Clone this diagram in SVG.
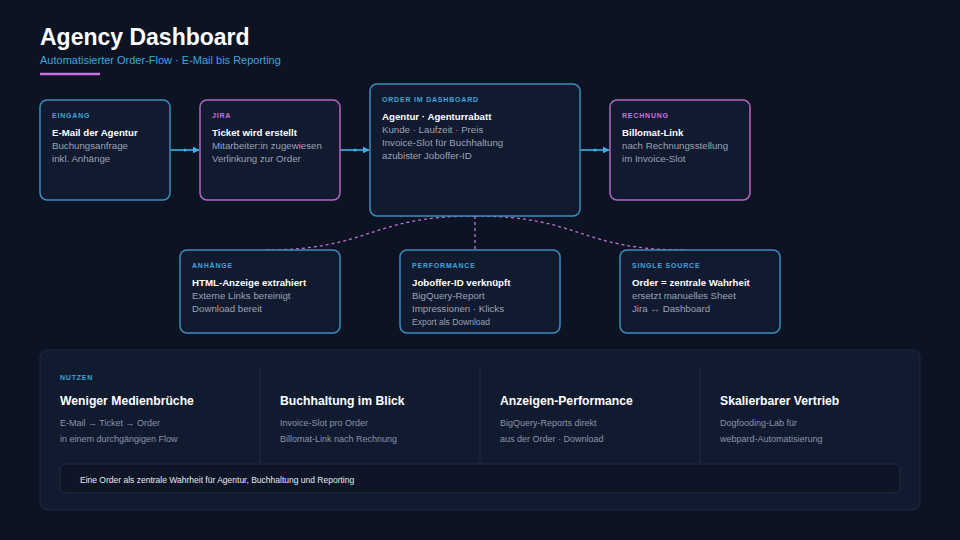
<svg xmlns="http://www.w3.org/2000/svg" width="960" height="540" viewBox="0 0 960 540">
<defs>
<marker id="ah" viewBox="0 0 10 10" refX="9" refY="5" markerWidth="7" markerHeight="7" markerUnits="userSpaceOnUse" orient="auto"><path d="M0,0 L10,5 L0,10 z" fill="#3fb0ea"/></marker>
<style>
text{font-family:"Liberation Sans",Arial,sans-serif}
.bg{fill:#0c1322}
.nb{fill:#111a2f;stroke:#3a8dbf;stroke-width:1.5}
.np{fill:#111a2f;stroke:#b566c6;stroke-width:1.5}
.lb{font-size:7px;font-weight:bold;letter-spacing:0.8px;fill:#3aa6dc}
.lp{font-size:7px;font-weight:bold;letter-spacing:0.8px;fill:#d070de}
.t{font-size:9.7px;font-weight:bold;fill:#ffffff}
.s{font-size:9.7px;fill:#9aa3b5}
.xs{font-size:8.5px;fill:#9aa3b5}
.ar{stroke:#3fb0ea;stroke-width:1.6;fill:none}
.dash{stroke:#c270d4;stroke-width:1.3;stroke-dasharray:3 3;fill:none}
.h{font-size:12.2px;font-weight:bold;fill:#ffffff}
.ps{font-size:9px;fill:#8a94a8}
.div{stroke:#1f2b42;stroke-width:1}
</style>
</defs>
<rect class="bg" x="0" y="0" width="960" height="540"/>
<g id="header">
<text x="40" y="45" font-size="23" font-weight="bold" fill="#ffffff">Agency Dashboard</text>
<text x="40" y="64" font-size="11" fill="#3aa6dc">Automatisierter Order-Flow · E-Mail bis Reporting</text>
<line x1="40" y1="74" x2="100" y2="74" stroke="#d070de" stroke-width="2.5"/>
</g>
<g id="connectors">
<line class="ar" x1="170" y1="150" x2="199" y2="150" marker-end="url(#ah)"/>
<circle cx="185" cy="150" r="1.6" fill="#3fb0ea"/>
<line class="ar" x1="340" y1="150" x2="369" y2="150" marker-end="url(#ah)"/>
<circle cx="355" cy="150" r="1.6" fill="#3fb0ea"/>
<line class="ar" x1="580" y1="150" x2="609" y2="150" marker-end="url(#ah)"/>
<circle cx="595" cy="150" r="1.6" fill="#3fb0ea"/>
<path class="dash" d="M475,216 C370,216 370,250 265,250"/>
<path class="dash" d="M475,216 L475,250"/>
<path class="dash" d="M475,216 C580,216 580,250 685,250"/>
</g>
<g id="eingang">
<rect class="nb" x="40" y="100" width="130" height="100" rx="7"/>
<text class="lb" x="52" y="118">EINGANG</text>
<text class="t" x="52" y="136">E-Mail der Agentur</text>
<text class="s" x="52" y="149">Buchungsanfrage</text>
<text class="s" x="52" y="162">inkl. Anhänge</text>
</g>
<g id="jira">
<rect class="np" x="200" y="100" width="140" height="100" rx="7"/>
<text class="lp" x="212" y="118">JIRA</text>
<text class="t" x="212" y="136">Ticket wird erstellt</text>
<text class="s" x="212" y="149">Mitarbeiter:in zugewiesen</text>
<text class="s" x="212" y="162">Verlinkung zur Order</text>
</g>
<g id="order">
<rect class="nb" x="370" y="84" width="210" height="132" rx="7"/>
<text class="lb" x="382" y="102">ORDER IM DASHBOARD</text>
<text class="t" x="382" y="120">Agentur · Agenturrabatt</text>
<text class="s" x="382" y="133">Kunde · Laufzeit · Preis</text>
<text class="s" x="382" y="146">Invoice-Slot für Buchhaltung</text>
<text class="s" x="382" y="159">azubister Joboffer-ID</text>
</g>
<g id="rechnung">
<rect class="np" x="610" y="100" width="140" height="100" rx="7"/>
<text class="lp" x="622" y="118">RECHNUNG</text>
<text class="t" x="622" y="136">Billomat-Link</text>
<text class="s" x="622" y="149">nach Rechnungsstellung</text>
<text class="s" x="622" y="162">im Invoice-Slot</text>
</g>
<g id="anhaenge">
<rect class="nb" x="180" y="250" width="160" height="83" rx="7"/>
<text class="lb" x="192" y="268">ANHÄNGE</text>
<text class="t" x="192" y="286">HTML-Anzeige extrahiert</text>
<text class="s" x="192" y="299">Externe Links bereinigt</text>
<text class="s" x="192" y="312">Download bereit</text>
</g>
<g id="performance">
<rect class="nb" x="400" y="250" width="160" height="83" rx="7"/>
<text class="lb" x="412" y="268">PERFORMANCE</text>
<text class="t" x="412" y="286">Joboffer-ID verknüpft</text>
<text class="s" x="412" y="299">BigQuery-Report</text>
<text class="s" x="412" y="312">Impressionen · Klicks</text>
<text class="xs" x="412" y="325">Export als Download</text>
</g>
<g id="single-source">
<rect class="nb" x="620" y="250" width="160" height="83" rx="7"/>
<text class="lb" x="632" y="268">SINGLE SOURCE</text>
<text class="t" x="632" y="286">Order = zentrale Wahrheit</text>
<text class="s" x="632" y="299">ersetzt manuelles Sheet</text>
<text class="s" x="632" y="312">Jira ↔ Dashboard</text>
</g>
<g id="nutzen">
<rect x="40" y="350" width="880" height="160" rx="8" fill="#111b30" stroke="#1f2b45" stroke-width="1"/>
<text class="lb" x="60" y="380">NUTZEN</text>
<line class="div" x1="260" y1="368" x2="260" y2="463"/>
<line class="div" x1="480" y1="368" x2="480" y2="463"/>
<line class="div" x1="700" y1="368" x2="700" y2="463"/>
<text class="h" x="60" y="405">Weniger Medienbrüche</text>
<text class="ps" x="60" y="426">E-Mail → Ticket → Order</text>
<text class="ps" x="60" y="442">in einem durchgängigen Flow</text>
<text class="h" x="280" y="405">Buchhaltung im Blick</text>
<text class="ps" x="280" y="426">Invoice-Slot pro Order</text>
<text class="ps" x="280" y="442">Billomat-Link nach Rechnung</text>
<text class="h" x="500" y="405">Anzeigen-Performance</text>
<text class="ps" x="500" y="426">BigQuery-Reports direkt</text>
<text class="ps" x="500" y="442">aus der Order · Download</text>
<text class="h" x="720" y="405">Skalierbarer Vertrieb</text>
<text class="ps" x="720" y="426">Dogfooding-Lab für</text>
<text class="ps" x="720" y="442">webpard-Automatisierung</text>
<rect x="60" y="464" width="840" height="29" rx="5" fill="#0e1526" stroke="#1f2b45" stroke-width="1"/>
<text x="80" y="483" font-size="8.5" fill="#e6e9ef">Eine Order als zentrale Wahrheit für Agentur, Buchhaltung und Reporting</text>
</g>
</svg>
